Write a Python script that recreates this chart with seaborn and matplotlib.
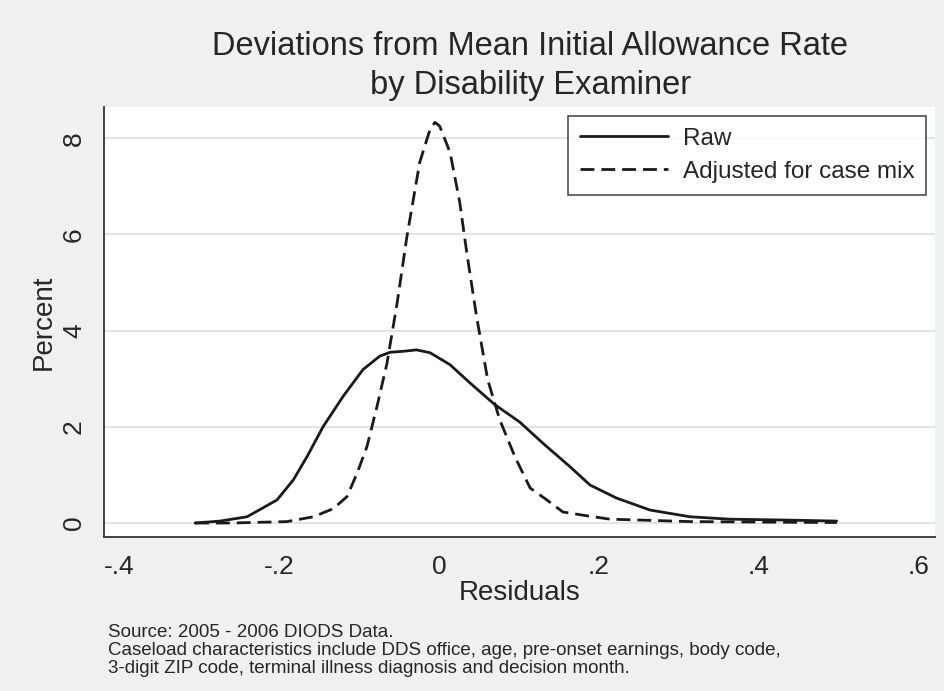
import pandas as pd
import matplotlib.pyplot as plt
import seaborn as sns

# Residual density curves
raw_x = [-0.305, -0.274, -0.24, -0.2025, -0.182, -0.165, -0.145, -0.12, -0.095, -0.074,
         -0.061, -0.045, -0.028, -0.011, 0.014, 0.039, 0.07, 0.101, 0.13, 0.164,
         0.189, 0.222, 0.264, 0.314, 0.364, 0.44, 0.4975]
raw_y = [0.0, 0.04, 0.13, 0.48, 0.9, 1.38, 2.0, 2.63, 3.19, 3.47,
         3.55, 3.57, 3.6, 3.54, 3.29, 2.91, 2.46, 2.1, 1.66, 1.17,
         0.79, 0.52, 0.27, 0.13, 0.08, 0.06, 0.04]

adj_x = [-0.305, -0.26, -0.19, -0.157, -0.132, -0.115, -0.1025, -0.09, -0.0775, -0.065,
         -0.0525, -0.04, -0.024, -0.011, -0.005, 0.001, 0.014, 0.026, 0.035, 0.047,
         0.061, 0.076, 0.095, 0.114, 0.135, 0.155, 0.185, 0.214, 0.255, 0.314,
         0.4, 0.4975]
adj_y = [0.0, 0.0, 0.03, 0.13, 0.3, 0.55, 1.03, 1.59, 2.42, 3.32,
         4.55, 5.96, 7.5, 8.19, 8.33, 8.25, 7.7, 6.67, 5.6, 4.3,
         2.98, 2.15, 1.38, 0.73, 0.48, 0.23, 0.15, 0.08, 0.06, 0.03,
         0.02, 0.01]

x_ticks = [-0.4, -0.2, 0, 0.2, 0.4, 0.6]
x_labels = ['-.4', '-.2', '0', '.2', '.4', '.6']
y_ticks = [0, 2, 4, 6, 8]
y_labels = ['0', '2', '4', '6', '8']

title = 'Deviations from Mean Initial Allowance Rate\nby Disability Examiner'
note = ('Source: 2005 - 2006 DIODS Data.\n'
        'Caseload characteristics include DDS office, age, pre-onset earnings, body code,\n'
        '3-digit ZIP code, terminal illness diagnosis and decision month.')

sns.set_style('white')
plt.rcParams['font.family'] = ['Liberation Sans', 'DejaVu Sans']

bg = '#eef0f2'
fig = plt.figure(figsize=(9.45, 6.91), dpi=100, facecolor=bg)
ax = fig.add_axes([0.110, 0.2229, 0.879, 0.6223])
ax.set_facecolor('white')

raw_df = pd.DataFrame({'x': raw_x, 'y': raw_y})
adj_df = pd.DataFrame({'x': adj_x, 'y': adj_y})
sns.lineplot(data=raw_df, x='x', y='y', ax=ax, color='#1a1a1a', lw=2.0, label='Raw', sort=False)
sns.lineplot(data=adj_df, x='x', y='y', ax=ax, color='#1a1a1a', lw=2.0, label='Adjusted for case mix',
             sort=False)
ax.lines[1].set_dashes([5, 2.5])

# Horizontal grid lines only, Stata style
for yt in y_ticks:
    ax.axhline(yt, color='#e3e3e3', lw=1.5, zorder=0)

ax.set_xlim(-0.419, 0.62)
ax.set_ylim(-0.29, 8.65)
ax.set_xticks(x_ticks)
ax.set_xticklabels(x_labels, fontsize=19)
ax.set_yticks(y_ticks)
ax.set_yticklabels(y_labels, fontsize=19, rotation=90, va='center')
ax.tick_params(axis='both', direction='out', length=7, width=1.3, color='#333333', pad=6)
ax.set_xlabel('Residuals', fontsize=20, labelpad=1)
ax.set_ylabel('Percent', fontsize=20, labelpad=4)

sns.despine(ax=ax, top=True, right=True)
for s in ['left', 'bottom']:
    ax.spines[s].set_color('#333333')
    ax.spines[s].set_linewidth(1.3)

leg = ax.legend(loc='upper right', bbox_to_anchor=(0.99, 0.98), borderaxespad=0, frameon=True,
                fancybox=False, edgecolor='#222222', handlelength=3.6, handletextpad=0.6,
                borderpad=0.5, labelspacing=0.45, prop={'size': 17.5})
leg.get_frame().set_linewidth(1.2)
leg.legend_handles[1].set_dashes([5, 2.5])

fig.text(0.561, 0.955, title, fontsize=23.5, ha='center', va='top', linespacing=1.32)
fig.text(0.114, 0.097, note, fontsize=13.5, va='top', ha='left', linespacing=1.08)

plt.savefig('out.png', dpi=100, facecolor=bg)
